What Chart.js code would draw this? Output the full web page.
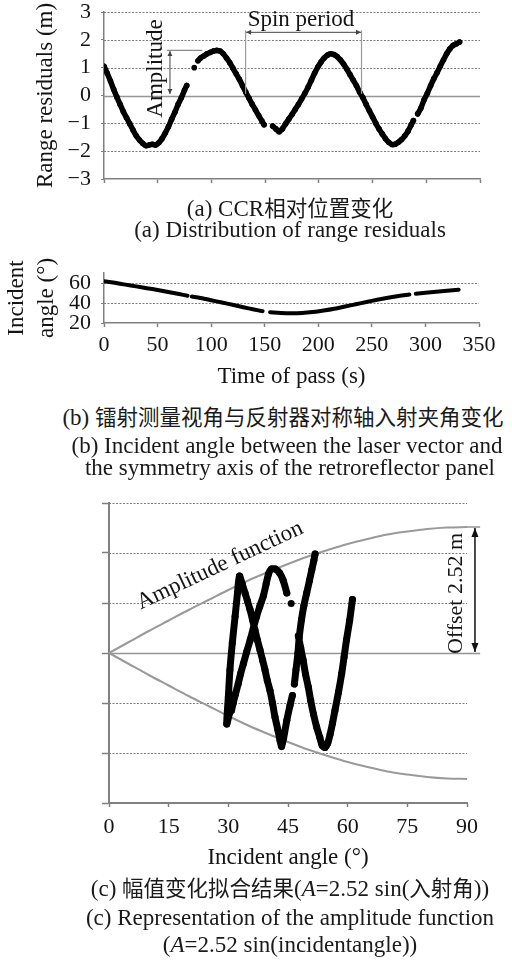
<!DOCTYPE html>
<html><head><meta charset="utf-8">
<script src="https://cdn.jsdelivr.net/npm/chart.js@4.4.0/dist/chart.umd.min.js"></script>
<style>
html,body{margin:0;padding:0;background:#fff}
body{position:relative;width:512px;height:960px;overflow:hidden}
canvas{position:absolute;left:0}
.cap{position:absolute;left:0;width:580px;text-align:center;font-family:"Liberation Serif","Noto Sans CJK SC",serif;font-size:23px;line-height:26px;height:26px;white-space:nowrap;color:#1a1a1a}
.cap .zh{font-family:"Noto Sans CJK SC",sans-serif;font-size:21.5px}
</style></head><body>
<canvas id="ca" width="512" height="195" style="top:0;width:512px;height:195px"></canvas>
<canvas id="cb" width="512" height="142" style="top:250px;width:512px;height:142px"></canvas>
<canvas id="cc" width="512" height="400" style="top:480px;width:512px;height:400px"></canvas>
<div class="cap" style="top:194px">(a) CCR<span class="zh">相对位置变化</span></div>
<div class="cap" style="top:217px">(a) Distribution of range residuals</div>
<div class="cap" style="top:403px;left:-7px">(b) <span class="zh">镭射测量视角与反射器对称轴入射夹角变化</span></div>
<div class="cap" style="top:433px;left:-3px">(b) Incident angle between the laser vector and</div>
<div class="cap" style="top:455px">the symmetry axis of the retroreflector panel</div>
<div class="cap" style="top:874px">(c) <span class="zh">幅值变化拟合结果</span>(<i>A</i>=2.52 sin(<span class="zh">入射角</span>))</div>
<div class="cap" style="top:905px">(c) Representation of the amplitude function</div>
<div class="cap" style="top:932px">(<i>A</i>=2.52 sin(incidentangle))</div>
<script>
// ---------------- data ----------------
const timeTicks = [0, 50, 100, 150, 200, 250, 300, 350];
const residualTicks = [-3, -2, -1, 0, 1, 2, 3];
const incidentTicks = [20, 40, 60];
const angleTicks = [0, 15, 30, 45, 60, 75, 90];
const offsetTicks = [-3, -2, -1, 0, 1, 2, 3];

// (a) range residuals vs time of pass (null = gap)
const residualTime = [0,3,6,9,12,15,18,21,24,27,30,33,36,39,42,45,48,51,54,57,60,63,66,69,72,75,77,
  79,84,86,
  87.5,90,93,96,99,102,105,108,111,114,117,120,123,126,129,132,135,138,141,144,147,149,
  153,
  157,160,163,166,169,172,175,178,181,184,187,190,193,196,199,202,205,208,211,214,217,220,223,226,229,232,235,238,241,244,247,250,253,256,259,262,265,268,271,274,277,280,283,286,288,
  290,
  292,295,298,301,304,307,310,313,316,319,322,325,328,331];
const residualValue = [1.05,0.8,0.52,0.22,-0.06,-0.32,-0.58,-0.8,-1.02,-1.24,-1.45,-1.6,-1.72,-1.8,-1.78,-1.75,-1.78,-1.7,-1.55,-1.35,-1.12,-0.85,-0.6,-0.32,-0.08,0.2,0.36,
  null,1.0,null,
  1.25,1.35,1.42,1.5,1.55,1.6,1.62,1.6,1.5,1.35,1.18,0.98,0.78,0.58,0.35,0.12,-0.1,-0.32,-0.52,-0.72,-0.92,-1.05,
  null,
  -1.1,-1.2,-1.3,-1.2,-1.02,-0.85,-0.68,-0.5,-0.32,-0.12,0.08,0.3,0.55,0.8,1.02,1.2,1.35,1.45,1.5,1.47,1.4,1.28,1.13,0.95,0.75,0.55,0.35,0.12,-0.08,-0.32,-0.55,-0.77,-1.0,-1.2,-1.38,-1.55,-1.68,-1.76,-1.75,-1.68,-1.58,-1.45,-1.28,-1.05,-0.9,
  null,
  -0.66,-0.45,-0.15,0.08,0.35,0.6,0.82,1.05,1.28,1.5,1.68,1.8,1.86,1.92];

// (b) incident angle vs time of pass
const incidentTime = [0,10,20,30,40,50,60,70,78,80,82,90,100,110,120,130,140,148,151,155,165,175,185,195,205,215,225,235,245,255,265,275,285,289,291,300,310,320,331];
const incidentAngle = [61.8,60.2,58.4,56.6,54.8,53.0,51.0,49.0,47.3,null,46.5,45.0,42.8,40.5,38.2,35.8,33.5,31.8,null,30.8,30.0,29.7,30.0,31.0,32.5,34.3,36.5,38.7,41.0,43.2,45.2,47.0,48.5,null,49.2,50.2,51.3,52.3,53.3];

// (c) residuals vs incident angle
const fitAngle = [61.2,60.5,59.7,59.1,58.5,57.7,56.8,56.2,55.6,55.0,54.3,53.6,53.0,52.2,51.4,50.7,50.1,49.4,48.8,48.2,47.6,
  null,45.8,null,
  44.7,43.8,42.9,41.8,40.8,40.1,39.5,38.8,37.9,37.1,36.3,35.5,34.6,33.8,33.1,32.5,31.8,31.2,30.8,
  null,
  30.3,29.6,30.0,30.4,31.0,31.7,32.3,32.8,33.5,34.2,34.8,35.45,36.1,36.7,37.3,37.96,38.6,39.22,39.8,40.47,41.1,41.73,42.4,43.0,43.4,43.9,44.7,45.5,46.1,
  null,
  46.6,47.0,47.5,47.8,48.4,49.0,49.7,50.4,51.0,51.5,51.8];
const fitResidual = [1.07,0.65,0.26,-0.08,-0.41,-0.78,-1.15,-1.4,-1.62,-1.8,-1.89,-1.85,-1.69,-1.48,-1.22,-0.95,-0.68,-0.42,-0.14,0.1,0.34,
  null,0.99,null,
  1.2,1.45,1.6,1.68,1.68,1.58,1.38,1.14,0.93,0.73,0.5,0.26,0.02,-0.21,-0.41,-0.61,-0.82,-1.01,-1.15,
  null,
  -1.2,-1.42,-0.88,-0.34,0.2,0.73,1.2,1.54,1.38,1.2,1.04,0.87,0.66,0.46,0.26,0.06,-0.14,-0.34,-0.55,-0.75,-1.0,-1.28,-1.52,-1.75,-1.87,-1.7,-1.35,-1.05,-0.85,
  null,
  -0.62,-0.34,0.0,0.3,0.67,0.95,1.2,1.45,1.67,1.85,1.98];

// amplitude function envelope (A = 2.52 sin(angle)) read at 5 degree steps
const amplitudeAngle = [0,5,10,15,20,25,30,35,40,45,50,55,60,65,70,75,80,85,90];
const amplitudeUpper = [0,0.22,0.44,0.65,0.86,1.06,1.26,1.45,1.62,1.78,1.93,2.06,2.18,2.28,2.37,2.43,2.48,2.51,2.52];
const amplitudeLower = [0,-0.22,-0.44,-0.65,-0.86,-1.06,-1.26,-1.45,-1.62,-1.78,-1.93,-2.06,-2.18,-2.28,-2.37,-2.43,-2.48,-2.51,-2.52];
const offsetValue = 2.52;

// ---------------- helpers ----------------
const pts = (xs, ys) => xs.map((x, i) => ({x: x, y: ys[i]}));
const SERIF = '"Liberation Serif", "Noto Sans CJK SC", serif';
const tickFont = {family: SERIF, size: 22};
const titleFont = {family: SERIF, size: 23};
const INK = '#141414';
const AXIS = '#808080';
const GRID = '#7e7e7e';
const setTicks = arr => s => { s.ticks = arr.map(v => ({value: v})); };
const minusLabel = v => v < 0 ? '\u2212' + Math.abs(v) : String(v);
const fixY = w => s => { s.width = w; s.paddingTop = 0; s.paddingBottom = 0; };

// horizontal gridlines through the y scale's ticks: dotted, solid at zero
const gridLines = {id: 'gridLines', beforeDatasetsDraw(chart) {
  const {ctx, chartArea, scales: {y}} = chart;
  ctx.save();
  y.ticks.forEach(t => {
    if (t.value === y.min) return;
    const py = Math.round(y.getPixelForValue(t.value)) + 0.5;
    ctx.beginPath();
    if (t.value === 0) { ctx.setLineDash([]); ctx.lineWidth = 1.6; ctx.strokeStyle = '#959595'; }
    else { ctx.setLineDash([2, 1.5]); ctx.lineWidth = 1.1; ctx.strokeStyle = GRID; }
    ctx.moveTo(chartArea.left, py); ctx.lineTo(chartArea.right, py); ctx.stroke();
  });
  ctx.restore();
}};

function arrowHead(ctx, x, y, dx, dy, len, half) {
  const l = Math.hypot(dx, dy), ux = dx / l, uy = dy / l;
  ctx.beginPath();
  ctx.moveTo(x, y);
  ctx.lineTo(x - ux * len - uy * half, y - uy * len + ux * half);
  ctx.lineTo(x - ux * len + uy * half, y - uy * len - ux * half);
  ctx.closePath();
  ctx.fill();
}
function doubleArrow(ctx, x1, y1, x2, y2, color, width, len, half) {
  ctx.strokeStyle = color; ctx.fillStyle = color; ctx.lineWidth = width;
  ctx.beginPath(); ctx.moveTo(x1, y1); ctx.lineTo(x2, y2); ctx.stroke();
  arrowHead(ctx, x1, y1, x1 - x2, y1 - y2, len, half);
  arrowHead(ctx, x2, y2, x2 - x1, y2 - y1, len, half);
}
function seg(ctx, x1, y1, x2, y2, color, width) {
  ctx.strokeStyle = color; ctx.lineWidth = width;
  ctx.beginPath(); ctx.moveTo(x1, y1); ctx.lineTo(x2, y2); ctx.stroke();
}
function label(ctx, text, x, y, rot, size) {
  ctx.save();
  ctx.translate(x, y); ctx.rotate(rot);
  ctx.font = size + 'px ' + SERIF;
  ctx.fillStyle = INK; ctx.textAlign = 'center'; ctx.textBaseline = 'middle';
  ctx.fillText(text, 0, 0);
  ctx.restore();
}

const baseOpts = {responsive: false, animation: false, events: [],
  plugins: {legend: {display: false}, tooltip: {enabled: false}}};

// ---------------- (a) ----------------
const annotA = {id: 'annotA', afterDatasetsDraw(chart) {
  const {ctx, scales: {x, y}} = chart;
  ctx.save();
  seg(ctx, x.getPixelForValue(58.5), y.getPixelForValue(1.62), x.getPixelForValue(91.5), y.getPixelForValue(1.62), '#8a8a8a', 1.2);
  doubleArrow(ctx, x.getPixelForValue(61.4), y.getPixelForValue(1.6), x.getPixelForValue(61.4), y.getPixelForValue(0.05), '#444', 1, 5, 2.5);
  label(ctx, 'Amplitude', x.getPixelForValue(48.5), y.getPixelForValue(0.97), -Math.PI / 2, 23);
  seg(ctx, x.getPixelForValue(131.8), y.getPixelForValue(2.34), x.getPixelForValue(131.8), y.getPixelForValue(0.06), '#9a9a9a', 1.2);
  seg(ctx, x.getPixelForValue(239.7), y.getPixelForValue(2.34), x.getPixelForValue(239.7), y.getPixelForValue(0.06), '#9a9a9a', 1.2);
  doubleArrow(ctx, x.getPixelForValue(132.3), y.getPixelForValue(2.27), x.getPixelForValue(239.2), y.getPixelForValue(2.27), '#444', 1, 5, 2.5);
  label(ctx, 'Spin period', x.getPixelForValue(183.4), y.getPixelForValue(2.72), 0, 23);
  ctx.restore();
}};

new Chart(document.getElementById('ca'), {
  type: 'scatter',
  data: {datasets: [{data: pts(residualTime, residualValue), showLine: true, spanGaps: false,
    borderColor: '#000', borderWidth: 5.5, tension: 0.3, borderCapStyle: 'round', borderJoinStyle: 'round',
    pointRadius: 2.8, pointBackgroundColor: '#000', pointBorderWidth: 0}]},
  options: Object.assign({}, baseOpts, {
    layout: {padding: {top: 12, right: 32, left: 0, bottom: 0}},
    scales: {
      x: {type: 'linear', min: 0, max: 350, afterBuildTicks: setTicks(timeTicks),
        ticks: {display: false, autoSkip: false},
        grid: {drawOnChartArea: false, drawTicks: true, tickLength: 4, tickColor: AXIS, tickWidth: 1.5},
        border: {color: AXIS, width: 1.5},
        afterFit: s => { s.height = 16; s.paddingLeft = 0; s.paddingRight = 0; }},
      y: {type: 'linear', min: -3, max: 3, afterBuildTicks: setTicks(residualTicks),
        ticks: {font: tickFont, color: INK, padding: 10, autoSkip: false, callback: minusLabel},
        grid: {drawOnChartArea: false, drawTicks: true, tickLength: 3, tickColor: AXIS, tickWidth: 1.2},
        border: {color: AXIS, width: 1.5},
        title: {display: true, text: 'Range residuals (m)', font: titleFont, color: INK, padding: {top: 32, bottom: 0}},
        afterFit: fixY(104)}
    }
  }),
  plugins: [gridLines, annotA]
});

// ---------------- (b) ----------------
new Chart(document.getElementById('cb'), {
  type: 'scatter',
  data: {datasets: [{data: pts(incidentTime, incidentAngle), showLine: true, spanGaps: false,
    borderColor: '#000', borderWidth: 4, tension: 0.3, borderCapStyle: 'round',
    pointRadius: 0}]},
  options: Object.assign({}, baseOpts, {
    layout: {padding: {top: 23, right: 33, left: 0, bottom: 0}},
    scales: {
      x: {type: 'linear', min: 0, max: 350, afterBuildTicks: setTicks(timeTicks),
        ticks: {font: tickFont, color: INK, padding: 5, maxRotation: 0, autoSkip: false},
        grid: {drawOnChartArea: false, drawTicks: true, tickLength: 4, tickColor: AXIS, tickWidth: 1.5},
        border: {color: AXIS, width: 1.5},
        title: {display: true, text: 'Time of pass (s)', font: titleFont, color: INK, padding: {top: 0, bottom: 1}},
        afterFit: s => { s.height = 69; }},
      y: {type: 'linear', min: 20, max: 70, afterBuildTicks: setTicks(incidentTicks),
        ticks: {font: tickFont, color: INK, padding: 10, autoSkip: false},
        grid: {drawOnChartArea: false, drawTicks: true, tickLength: 3, tickColor: AXIS, tickWidth: 1.2},
        border: {color: AXIS, width: 1.5},
        title: {display: true, text: ['Incident', 'angle (\u00b0)'], font: {family: SERIF, size: 23, lineHeight: 1.3},
                color: INK, padding: {top: 2, bottom: 0}},
        afterFit: fixY(104)}
    }
  }),
  plugins: [gridLines]
});

// ---------------- (c) ----------------
const annotC = {id: 'annotC', afterDatasetsDraw(chart) {
  const {ctx, scales: {x, y}} = chart;
  ctx.save();
  const xEnd = x.getPixelForValue(90), xExt = x.getPixelForValue(93.3);
  seg(ctx, xEnd, y.getPixelForValue(offsetValue), xExt, y.getPixelForValue(offsetValue), '#9a9a9a', 1.6);
  seg(ctx, xEnd, Math.round(y.getPixelForValue(0)) + 0.5, xExt, Math.round(y.getPixelForValue(0)) + 0.5, '#959595', 1.6);
  const xa = x.getPixelForValue(92.0);
  doubleArrow(ctx, xa, y.getPixelForValue(offsetValue) + 1, xa, y.getPixelForValue(0) - 1, '#111', 1.5, 9, 3.5);
  label(ctx, 'Offset 2.52 m', x.getPixelForValue(87.4), y.getPixelForValue(1.19), -Math.PI / 2, 22);
  label(ctx, 'Amplitude function', x.getPixelForValue(27.9), y.getPixelForValue(1.75), -25.2 * Math.PI / 180, 23);
  ctx.restore();
}};

new Chart(document.getElementById('cc'), {
  type: 'scatter',
  data: {datasets: [
    {data: pts(fitAngle, fitResidual), showLine: true, spanGaps: false, order: 0,
     borderColor: '#000', borderWidth: 7, tension: 0.25, borderCapStyle: 'round', borderJoinStyle: 'round',
     pointRadius: 3.5, pointBackgroundColor: '#000', pointBorderWidth: 0},
    {data: pts(amplitudeAngle, amplitudeUpper), showLine: true, order: 1,
     borderColor: '#9a9a9a', borderWidth: 2, tension: 0.3, pointRadius: 0},
    {data: pts(amplitudeAngle, amplitudeLower), showLine: true, order: 1,
     borderColor: '#9a9a9a', borderWidth: 2, tension: 0.3, pointRadius: 0}
  ]},
  options: Object.assign({}, baseOpts, {
    layout: {padding: {top: 23, right: 45, left: 0, bottom: 0}},
    scales: {
      x: {type: 'linear', min: 0, max: 90, afterBuildTicks: setTicks(angleTicks),
        ticks: {font: tickFont, color: INK, padding: 7, maxRotation: 0, autoSkip: false},
        grid: {drawOnChartArea: false, drawTicks: true, tickLength: 4, tickColor: AXIS, tickWidth: 1.5},
        border: {color: AXIS, width: 2},
        title: {display: true, text: 'Incident angle (\u00b0)', font: titleFont, color: INK, padding: {top: 0, bottom: 8}},
        afterFit: s => { s.height = 77; }},
      y: {type: 'linear', min: -3, max: 3, afterBuildTicks: setTicks(offsetTicks),
        ticks: {display: false, autoSkip: false},
        grid: {drawOnChartArea: false, drawTicks: true, tickLength: 7, tickColor: AXIS, tickWidth: 1.5},
        border: {color: AXIS, width: 2},
        afterFit: fixY(109)}
    }
  }),
  plugins: [gridLines, annotC]
});
</script>
</body></html>
